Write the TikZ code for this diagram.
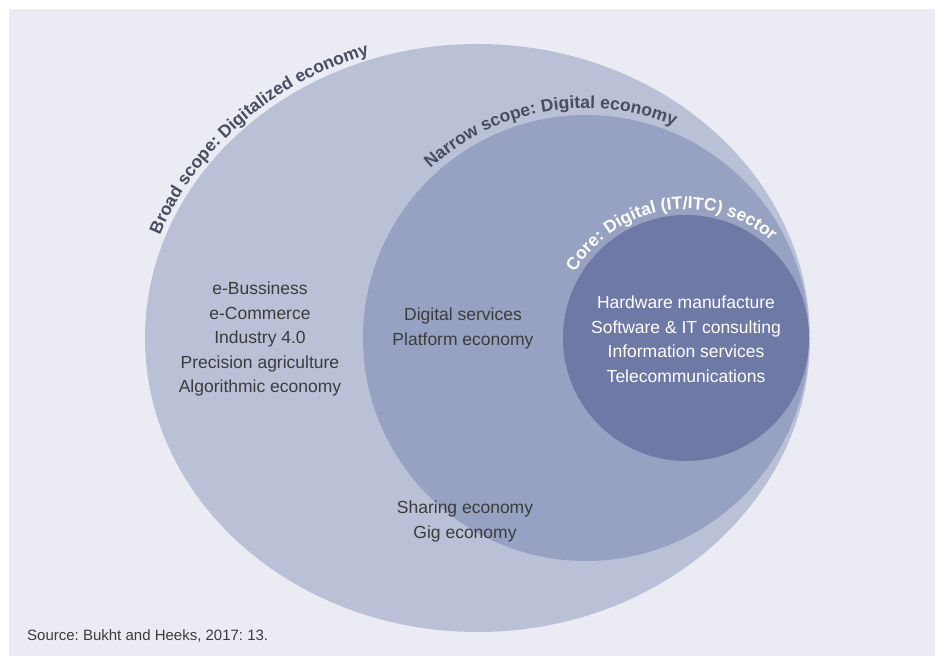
\documentclass[tikz,border=0pt]{standalone}
\usepackage{fontspec}
\setmainfont{Liberation Sans}
\usepackage{xcolor}
\usetikzlibrary{decorations.text}
\definecolor{canvas}{HTML}{EBEBF4}
\definecolor{broadfill}{HTML}{BAC0D6}
\definecolor{narrowfill}{HTML}{97A2C2}
\definecolor{corefill}{HTML}{6E79A5}
\definecolor{ink}{HTML}{3C3C3C}
\definecolor{scopeink}{HTML}{474E60}
\frenchspacing

\begin{document}
\begin{tikzpicture}[
  x=1pt, y=1pt,
  item/.style={font=\fontsize{17.5}{24.5}\selectfont, text=ink, align=center, inner sep=0pt},
  coreitem/.style={item, text=white},
  source/.style={font=\fontsize{15}{18}\selectfont, text=ink, anchor=west, inner sep=0pt},
  arclabel/.style 2 args={
    decorate,
    decoration={text along path, text align=center, text color=#1,
      text={|\bfseries\fontsize{17.5}{20}\selectfont|#2}}
  }
]

% canvas
\useasboundingbox (0,0) rectangle (935,656);
\fill[white] (0,0) rectangle (935,656);
\fill[canvas] (9,0) rectangle (935,647);

% centres
\coordinate (broadc) at (477.5,318);
\coordinate (narrowc) at (586,318);
\coordinate (corec) at (686,318);

% nested scopes
\fill[broadfill] (broadc) ellipse [x radius=332.5, y radius=294];
\fill[narrowfill] (narrowc) circle [radius=223];
\fill[corefill] (corec) circle [radius=123];

% curved labels
\path[arclabel={scopeink}{Broad scope: Digitalized economy}]
  ([shift={(broadc)}]164:338 and 299.5) arc[start angle=164, end angle=105, x radius=338, y radius=299.5];
\path[arclabel={scopeink}{Narrow scope: Digital economy}]
  ([shift={(narrowc)}]140:230) arc[start angle=140, end angle=60, radius=230];
\path[arclabel={white}{Core: Digital (IT/ITC) sector}]
  ([shift={(corec)}]155:129) arc[start angle=155, end angle=43, radius=129];

% broad scope items
\node[item] (broaditems) at (260,317) {e-Bussiness\\e-Commerce\\Industry 4.0\\Precision agriculture\\Algorithmic economy};

% narrow scope items
\node[item] (services) at (463,327.5) {Digital services\\Platform economy};
\node[item] (sharing) at (465,134.5) {Sharing economy\\Gig economy};

% core items
\node[coreitem] (coreitems) at (686,317) {Hardware manufacture\\Software \& IT consulting\\Information services\\Telecommunications};

% source
\node[source] (src) at (27,20) {Source: Bukht and Heeks, 2017: 13.};

\end{tikzpicture}
\end{document}
